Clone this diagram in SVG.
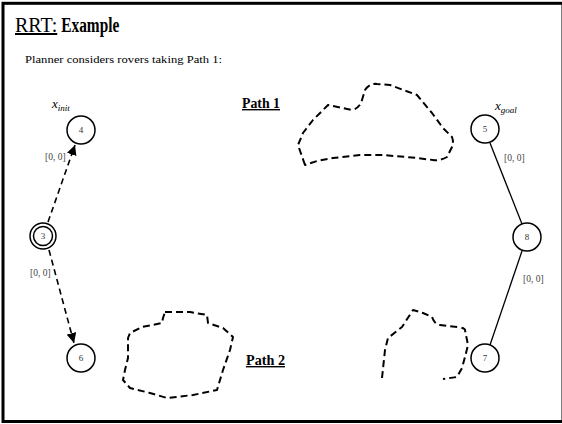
<svg xmlns="http://www.w3.org/2000/svg" width="562" height="424" viewBox="0 0 562 424" font-family="'Liberation Serif', 'Times New Roman', serif">
<defs>
<marker id="ah" viewBox="0 0 10 10" refX="10" refY="5" markerWidth="10" markerHeight="10" markerUnits="userSpaceOnUse" orient="auto">
<path d="M0,0 L10,5 L0,10 Z" fill="#000"/>
</marker>
<style>
text{font-family:"Liberation Serif","Times New Roman",serif}
.node circle{fill:#fff;stroke:#000;stroke-width:1.5}
.node text{font-size:9px;fill:#333;text-anchor:middle}
.lbl{font-size:9.5px;fill:#444}
.blob{fill:none;stroke:#000;stroke-width:2;stroke-dasharray:7,4;stroke-linejoin:round}
.dash{fill:none;stroke:#000;stroke-width:1.6;stroke-dasharray:6,4}
.solid{fill:none;stroke:#000;stroke-width:1.3}
</style>
</defs>
<rect x="0" y="0" width="562" height="424" fill="#fff"/>
<rect x="3" y="3.3" width="560" height="418.2" fill="none" stroke="#000" stroke-width="3"/>

<text x="15" y="32" font-size="20"><tspan text-decoration="underline">RRT:</tspan><tspan font-weight="bold" dx="4" textLength="58" lengthAdjust="spacingAndGlyphs">Example</tspan></text>
<text x="25" y="63" font-size="11" textLength="197" lengthAdjust="spacingAndGlyphs">Planner considers rovers taking Path 1:</text>
<text x="242" y="108" font-size="14" font-weight="bold" text-decoration="underline" textLength="38" lengthAdjust="spacingAndGlyphs">Path 1</text>
<text x="246" y="365" font-size="14" font-weight="bold" text-decoration="underline" textLength="39" lengthAdjust="spacingAndGlyphs">Path 2</text>

<text x="52" y="108" font-size="13" font-style="italic">x<tspan font-size="9" dy="3">init</tspan></text>
<text x="495" y="110" font-size="13" font-style="italic">x<tspan font-size="9" dy="3">goal</tspan></text>

<g id="obstacles">
<path class="blob" d="M305,165 L298,145 L303,133 L313,120 L328,105 L352,110 Q360,108 362,100 L365,90 Q370,83 377,84 L390,85 L417,95 L432,113 L443,128 L452,137 Q454,142 452,147 L447,157 Q440,161 433,160 L417,158 L383,155 L360,155 L333,158 L317,161 Z"/>
<path class="blob" d="M165,312 L190,312 L207,315 L208,323 L223,328 L233,337 L230,350 L223,370 L217,390 L193,395 L167,398 L150,393 L130,388 L123,380 L125,370 L128,358 L128,338 L130,333 L142,327 L162,323 L163,318 Z"/>
<path class="blob" d="M382,378 L385,350 L388,338 L402,327 L413,310 L423,313 L432,317 Q435,325 440,325 L458,327 Q465,328 465,330 L468,345 L465,357 L462,368 L457,377 L443,379"/>
</g>

<g id="connectors">
<line class="dash" x1="48" y1="222" x2="75" y2="145" marker-end="url(#ah)"/>
<line class="dash" x1="49" y1="250" x2="74" y2="343" marker-end="url(#ah)"/>
<line class="solid" x1="490" y1="143" x2="522" y2="224"/>
<line class="solid" x1="522" y1="251" x2="490" y2="345"/>
<text class="lbl" x="45" y="160">[0, 0]</text>
<text class="lbl" x="30" y="276">[0, 0]</text>
<text class="lbl" x="504" y="161">[0, 0]</text>
<text class="lbl" x="523" y="282">[0, 0]</text>
</g>

<g id="n4" class="node"><circle cx="81" cy="130" r="14"/><text x="81" y="133">4</text></g>
<g id="n3" class="node"><circle cx="43" cy="236" r="13"/><circle cx="43" cy="236" r="9.5"/><text x="43" y="239">3</text></g>
<g id="n6" class="node"><circle cx="81" cy="358" r="14"/><text x="81" y="361">6</text></g>
<g id="n5" class="node"><circle cx="485" cy="129" r="14"/><text x="485" y="132">5</text></g>
<g id="n8" class="node"><circle cx="527" cy="237" r="14"/><text x="527" y="240">8</text></g>
<g id="n7" class="node"><circle cx="485" cy="358" r="14"/><text x="485" y="361">7</text></g>
</svg>
